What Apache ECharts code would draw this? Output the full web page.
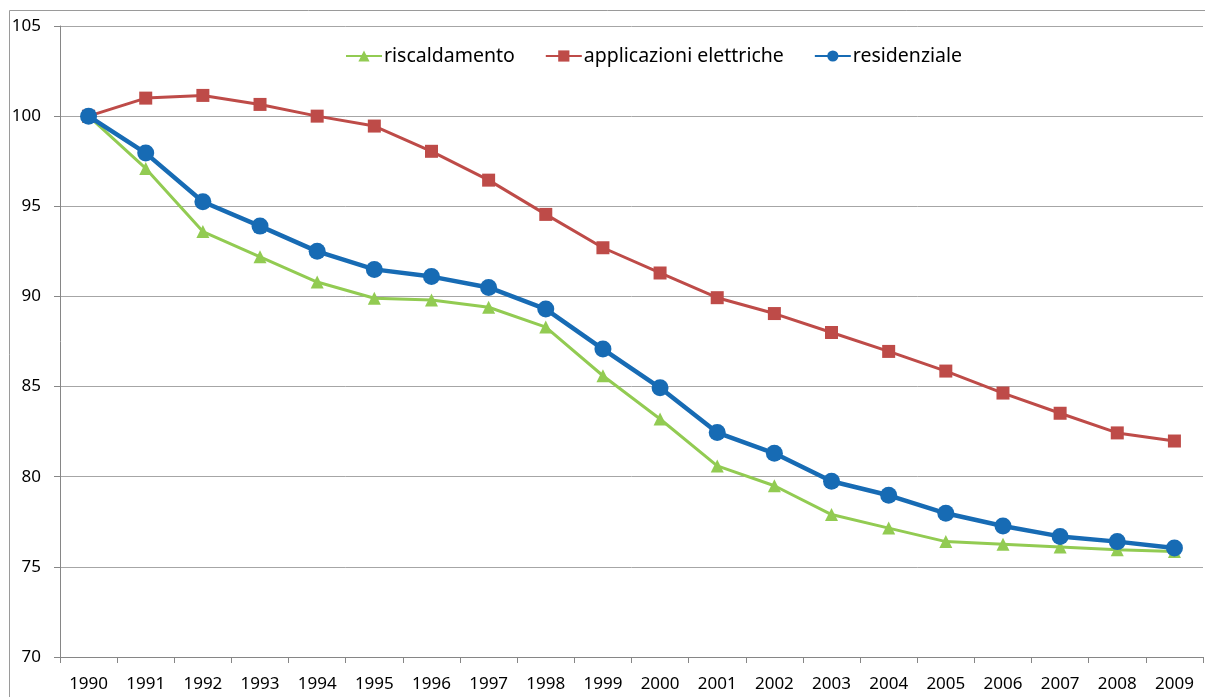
<!DOCTYPE html>
<html>
<head>
<meta charset="utf-8">
<script src="https://cdn.jsdelivr.net/npm/echarts@6/dist/echarts.min.js"></script>
<style>
html,body{margin:0;padding:0;background:#fff;}
#chart{width:1205px;height:697px;}
</style>
</head>
<body>
<div id="chart"></div>
<script>
const years = ['1990','1991','1992','1993','1994','1995','1996','1997','1998','1999','2000','2001','2002','2003','2004','2005','2006','2007','2008','2009'];
const riscaldamento = [100, 97.1, 93.6, 92.2, 90.8, 89.9, 89.8, 89.4, 88.3, 85.6, 83.2, 80.6, 79.5, 77.9, 77.15, 76.4, 76.25, 76.1, 75.95, 75.85];
const applicazioniElettriche = [100, 101.0, 101.15, 100.65, 100, 99.45, 98.05, 96.45, 94.55, 92.7, 91.3, 89.93, 89.05, 88.0, 86.95, 85.86, 84.64, 83.52, 82.43, 81.98];
const residenziale = [100, 97.95, 95.25, 93.9, 92.5, 91.5, 91.1, 90.5, 89.3, 87.08, 84.93, 82.45, 81.3, 79.75, 78.97, 77.97, 77.27, 76.69, 76.4, 76.04];
const seriesNames = ['riscaldamento', 'applicazioni elettriche', 'residenziale'];

const chart = echarts.init(document.getElementById('chart'));
const font = 'Noto Sans';
chart.setOption({
  animation: false,
  backgroundColor: '#fff',
  graphic: [{
    type: 'rect',
    shape: {x: 9.5, y: 10.5, width: 1400, height: 1000},
    style: {fill: 'none', stroke: '#9a9a9a', lineWidth: 1},
    silent: true, z: -1
  }],
  grid: {left: 60, right: 2, top: 26, bottom: 40, containLabel: false},
  legend: {
    left: 340, top: 41,
    itemWidth: 36, itemHeight: 14, itemGap: 30,
    textStyle: {fontFamily: font, fontSize: 19.5, color: '#000', padding: [0, 0, 0, -3]},
    data: seriesNames
  },
  xAxis: {
    type: 'category',
    data: years,
    boundaryGap: true,
    axisLine: {lineStyle: {color: '#868686', width: 1}},
    axisTick: {show: true, length: 6, lineStyle: {color: '#868686'}},
    axisLabel: {fontFamily: font, fontSize: 17, color: '#000', margin: 19}
  },
  yAxis: {
    type: 'value',
    min: 70, max: 105, interval: 5,
    axisLine: {show: true, lineStyle: {color: '#868686', width: 1}},
    axisTick: {show: true, length: 6, lineStyle: {color: '#868686'}},
    axisLabel: {fontFamily: font, fontSize: 17, color: '#000', margin: 19},
    splitLine: {lineStyle: {color: '#a6a6a6', width: 1}}
  },
  series: [
    {
      name: seriesNames[0], type: 'line', data: riscaldamento,
      symbol: 'triangle', symbolSize: 13,
      lineStyle: {color: '#92CB52', width: 3},
      itemStyle: {color: '#92CB52'}, z: 2
    },
    {
      name: seriesNames[1], type: 'line', data: applicazioniElettriche,
      symbol: 'rect', symbolSize: 13,
      lineStyle: {color: '#BE4B48', width: 3},
      itemStyle: {color: '#BE4B48'}, z: 3
    },
    {
      name: seriesNames[2], type: 'line', data: residenziale,
      symbol: 'circle', symbolSize: 17,
      lineStyle: {color: '#176BB4', width: 4.5},
      itemStyle: {color: '#176BB4'}, z: 4
    }
  ]
});
</script>
</body>
</html>
